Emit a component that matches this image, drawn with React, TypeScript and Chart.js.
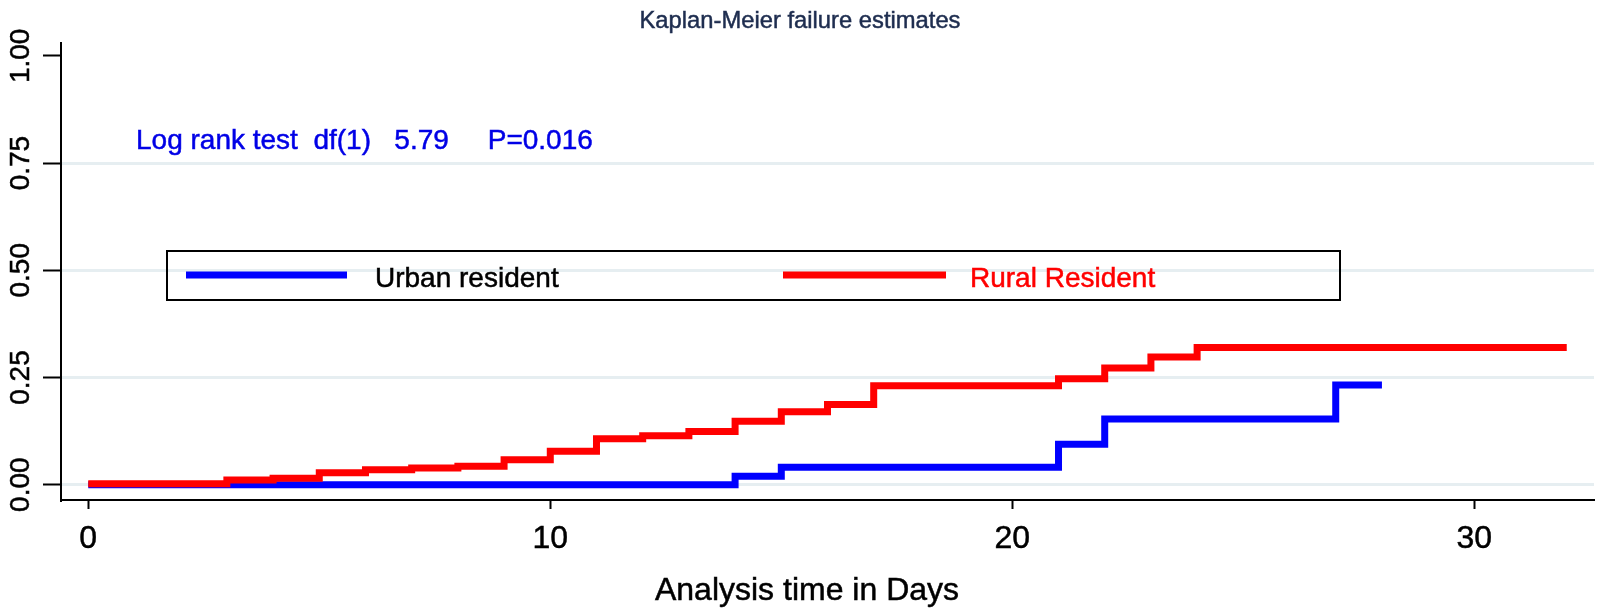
import React, { useEffect, useRef } from "react";
import { Chart, registerables } from "chart.js";

Chart.register(...registerables);

// ---- Data ----
const urbanTimes = [0, 14, 15, 21, 22, 27, 28];
const urbanFailure = [0, 0.0195, 0.0405, 0.0945, 0.153, 0.2325, 0.2325];

const ruralTimes = [0, 3, 4, 5, 6, 7, 8, 9, 10, 11, 12, 13, 14, 15, 16, 17, 21, 22, 23, 24, 32];
const ruralFailure = [
  0.002, 0.011, 0.015, 0.028, 0.035, 0.039, 0.043, 0.058, 0.078, 0.107, 0.114,
  0.124, 0.148, 0.17, 0.187, 0.231, 0.247, 0.272, 0.298, 0.32, 0.32,
];

const seriesLabels = ["Urban resident", "Rural Resident"];
const xTickValues = [0, 10, 20, 30];
const xTickLabels = ["0", "10", "20", "30"];
const yTickValues = [0, 0.25, 0.5, 0.75, 1];
const yTickLabels = ["0.00", "0.25", "0.50", "0.75", "1.00"];

const titleText = "Kaplan-Meier failure estimates";
const xTitleText = "Analysis time in Days";
const noteText = "Log rank test  df(1)   5.79     P=0.016";

const FONT = '"Liberation Sans", Arial, Helvetica, sans-serif';
const BLUE = "#0000ff";
const RED = "#ff0000";

function drawText(
  ctx: CanvasRenderingContext2D,
  text: string,
  x: number,
  y: number,
  size: number,
  color: string,
  align: CanvasTextAlign,
  sx = 1
) {
  ctx.save();
  ctx.translate(x, y);
  ctx.scale(sx, 1);
  ctx.font = `${size}px ${FONT}`;
  ctx.fillStyle = color;
  ctx.strokeStyle = color;
  ctx.lineWidth = 0.5;
  ctx.textAlign = align;
  ctx.textBaseline = "alphabetic";
  ctx.fillText(text, 0, 0);
  ctx.strokeText(text, 0, 0);
  ctx.restore();
}

const decorPlugin = {
  id: "decor",
  afterDraw(chart: any) {
    const ctx: CanvasRenderingContext2D = chart.ctx;
    const xs = chart.scales.x;
    const ys = chart.scales.y;

    // x tick labels
    xTickValues.forEach((v, i) => {
      drawText(ctx, xTickLabels[i], xs.getPixelForValue(v), 548, 32, "#000", "center", 1);
    });

    // y tick labels (rotated)
    yTickValues.forEach((v, i) => {
      const y = ys.getPixelForValue(v);
      ctx.save();
      ctx.translate(29, y);
      ctx.rotate(-Math.PI / 2);
      ctx.font = `28px ${FONT}`;
      ctx.fillStyle = "#000";
      ctx.strokeStyle = "#000";
      ctx.lineWidth = 0.5;
      ctx.textAlign = "center";
      ctx.textBaseline = "alphabetic";
      ctx.fillText(yTickLabels[i], 0, 0);
      ctx.strokeText(yTickLabels[i], 0, 0);
      ctx.restore();
    });

    // title
    drawText(ctx, titleText, 800, 28, 24.5, "#1e2d4f", "center", 0.97);
    // note
    drawText(ctx, noteText, 136, 149, 28, "#0000e6", "left", 1.0);
    // x title
    drawText(ctx, xTitleText, 807, 600, 32, "#000", "center", 1.0);

    // legend box
    ctx.save();
    ctx.strokeStyle = "#000";
    ctx.lineWidth = 2;
    ctx.strokeRect(167, 251, 1340 - 167, 300 - 251);
    ctx.lineCap = "butt";
    ctx.lineWidth = 7;
    ctx.strokeStyle = BLUE;
    ctx.beginPath();
    ctx.moveTo(186, 275);
    ctx.lineTo(347, 275);
    ctx.stroke();
    ctx.strokeStyle = RED;
    ctx.beginPath();
    ctx.moveTo(783, 275);
    ctx.lineTo(946, 275);
    ctx.stroke();
    ctx.restore();
    drawText(ctx, seriesLabels[0], 375, 287, 28, "#000", "left", 1.0);
    drawText(ctx, seriesLabels[1], 970, 287, 28, RED, "left", 1.0);
  },
};

export default function App() {
  const ref = useRef<HTMLCanvasElement | null>(null);

  useEffect(() => {
    document.body.style.margin = "0";
    const canvas = ref.current;
    if (!canvas) return;
    const chart = new Chart(canvas, {
      type: "line",
      data: {
        datasets: [
          {
            label: seriesLabels[0],
            data: urbanTimes.map((t, i) => ({ x: t, y: urbanFailure[i] })),
            borderColor: BLUE,
            backgroundColor: BLUE,
            borderWidth: 7,
            stepped: "before",
            pointRadius: 0,
            fill: false,
            borderCapStyle: "butt",
            borderJoinStyle: "miter",
            order: 2,
          },
          {
            label: seriesLabels[1],
            data: ruralTimes.map((t, i) => ({ x: t, y: ruralFailure[i] })),
            borderColor: RED,
            backgroundColor: RED,
            borderWidth: 7,
            stepped: "before",
            pointRadius: 0,
            fill: false,
            borderCapStyle: "butt",
            borderJoinStyle: "miter",
            order: 1,
          },
        ],
      },
      options: {
        animation: false,
        responsive: false,
        devicePixelRatio: 1,
        layout: { padding: { top: 43, right: 6, left: 0, bottom: 0 } },
        plugins: {
          legend: { display: false },
          tooltip: { enabled: false },
          title: { display: false },
        },
        scales: {
          x: {
            type: "linear",
            position: "bottom",
            min: -0.59,
            max: 32.59,
            afterBuildTicks: (s: any) => {
              s.ticks = xTickValues.map((v) => ({ value: v }));
            },
            afterFit: (s: any) => {
              s.height = 108;
            },
            ticks: { display: false },
            grid: {
              display: true,
              drawOnChartArea: false,
              drawTicks: true,
              tickLength: 9,
              tickColor: "#000",
              tickWidth: 2,
            },
            border: { display: true, color: "#000", width: 2 },
          },
          y: {
            type: "linear",
            min: -0.0357,
            max: 1.03,
            afterBuildTicks: (s: any) => {
              s.ticks = yTickValues.map((v) => ({ value: v }));
            },
            afterFit: (s: any) => {
              s.width = 61;
            },
            ticks: { display: false },
            grid: {
              display: true,
              drawOnChartArea: true,
              color: (c: any) => (c.tick && c.tick.value === 1 ? "rgba(0,0,0,0)" : "#e6eef1"),
              lineWidth: 3,
              drawTicks: true,
              tickLength: 18,
              tickColor: "#000",
              tickWidth: 2,
            },
            border: { display: true, color: "#000", width: 2 },
          },
        },
      },
      plugins: [decorPlugin],
    } as any);
    return () => chart.destroy();
  }, []);

  return (
    <div style={{ position: "fixed", left: 0, top: 0, width: 1600, height: 608, background: "#fff" }}>
      <canvas ref={ref} width={1600} height={608} style={{ display: "block" }} />
    </div>
  );
}
